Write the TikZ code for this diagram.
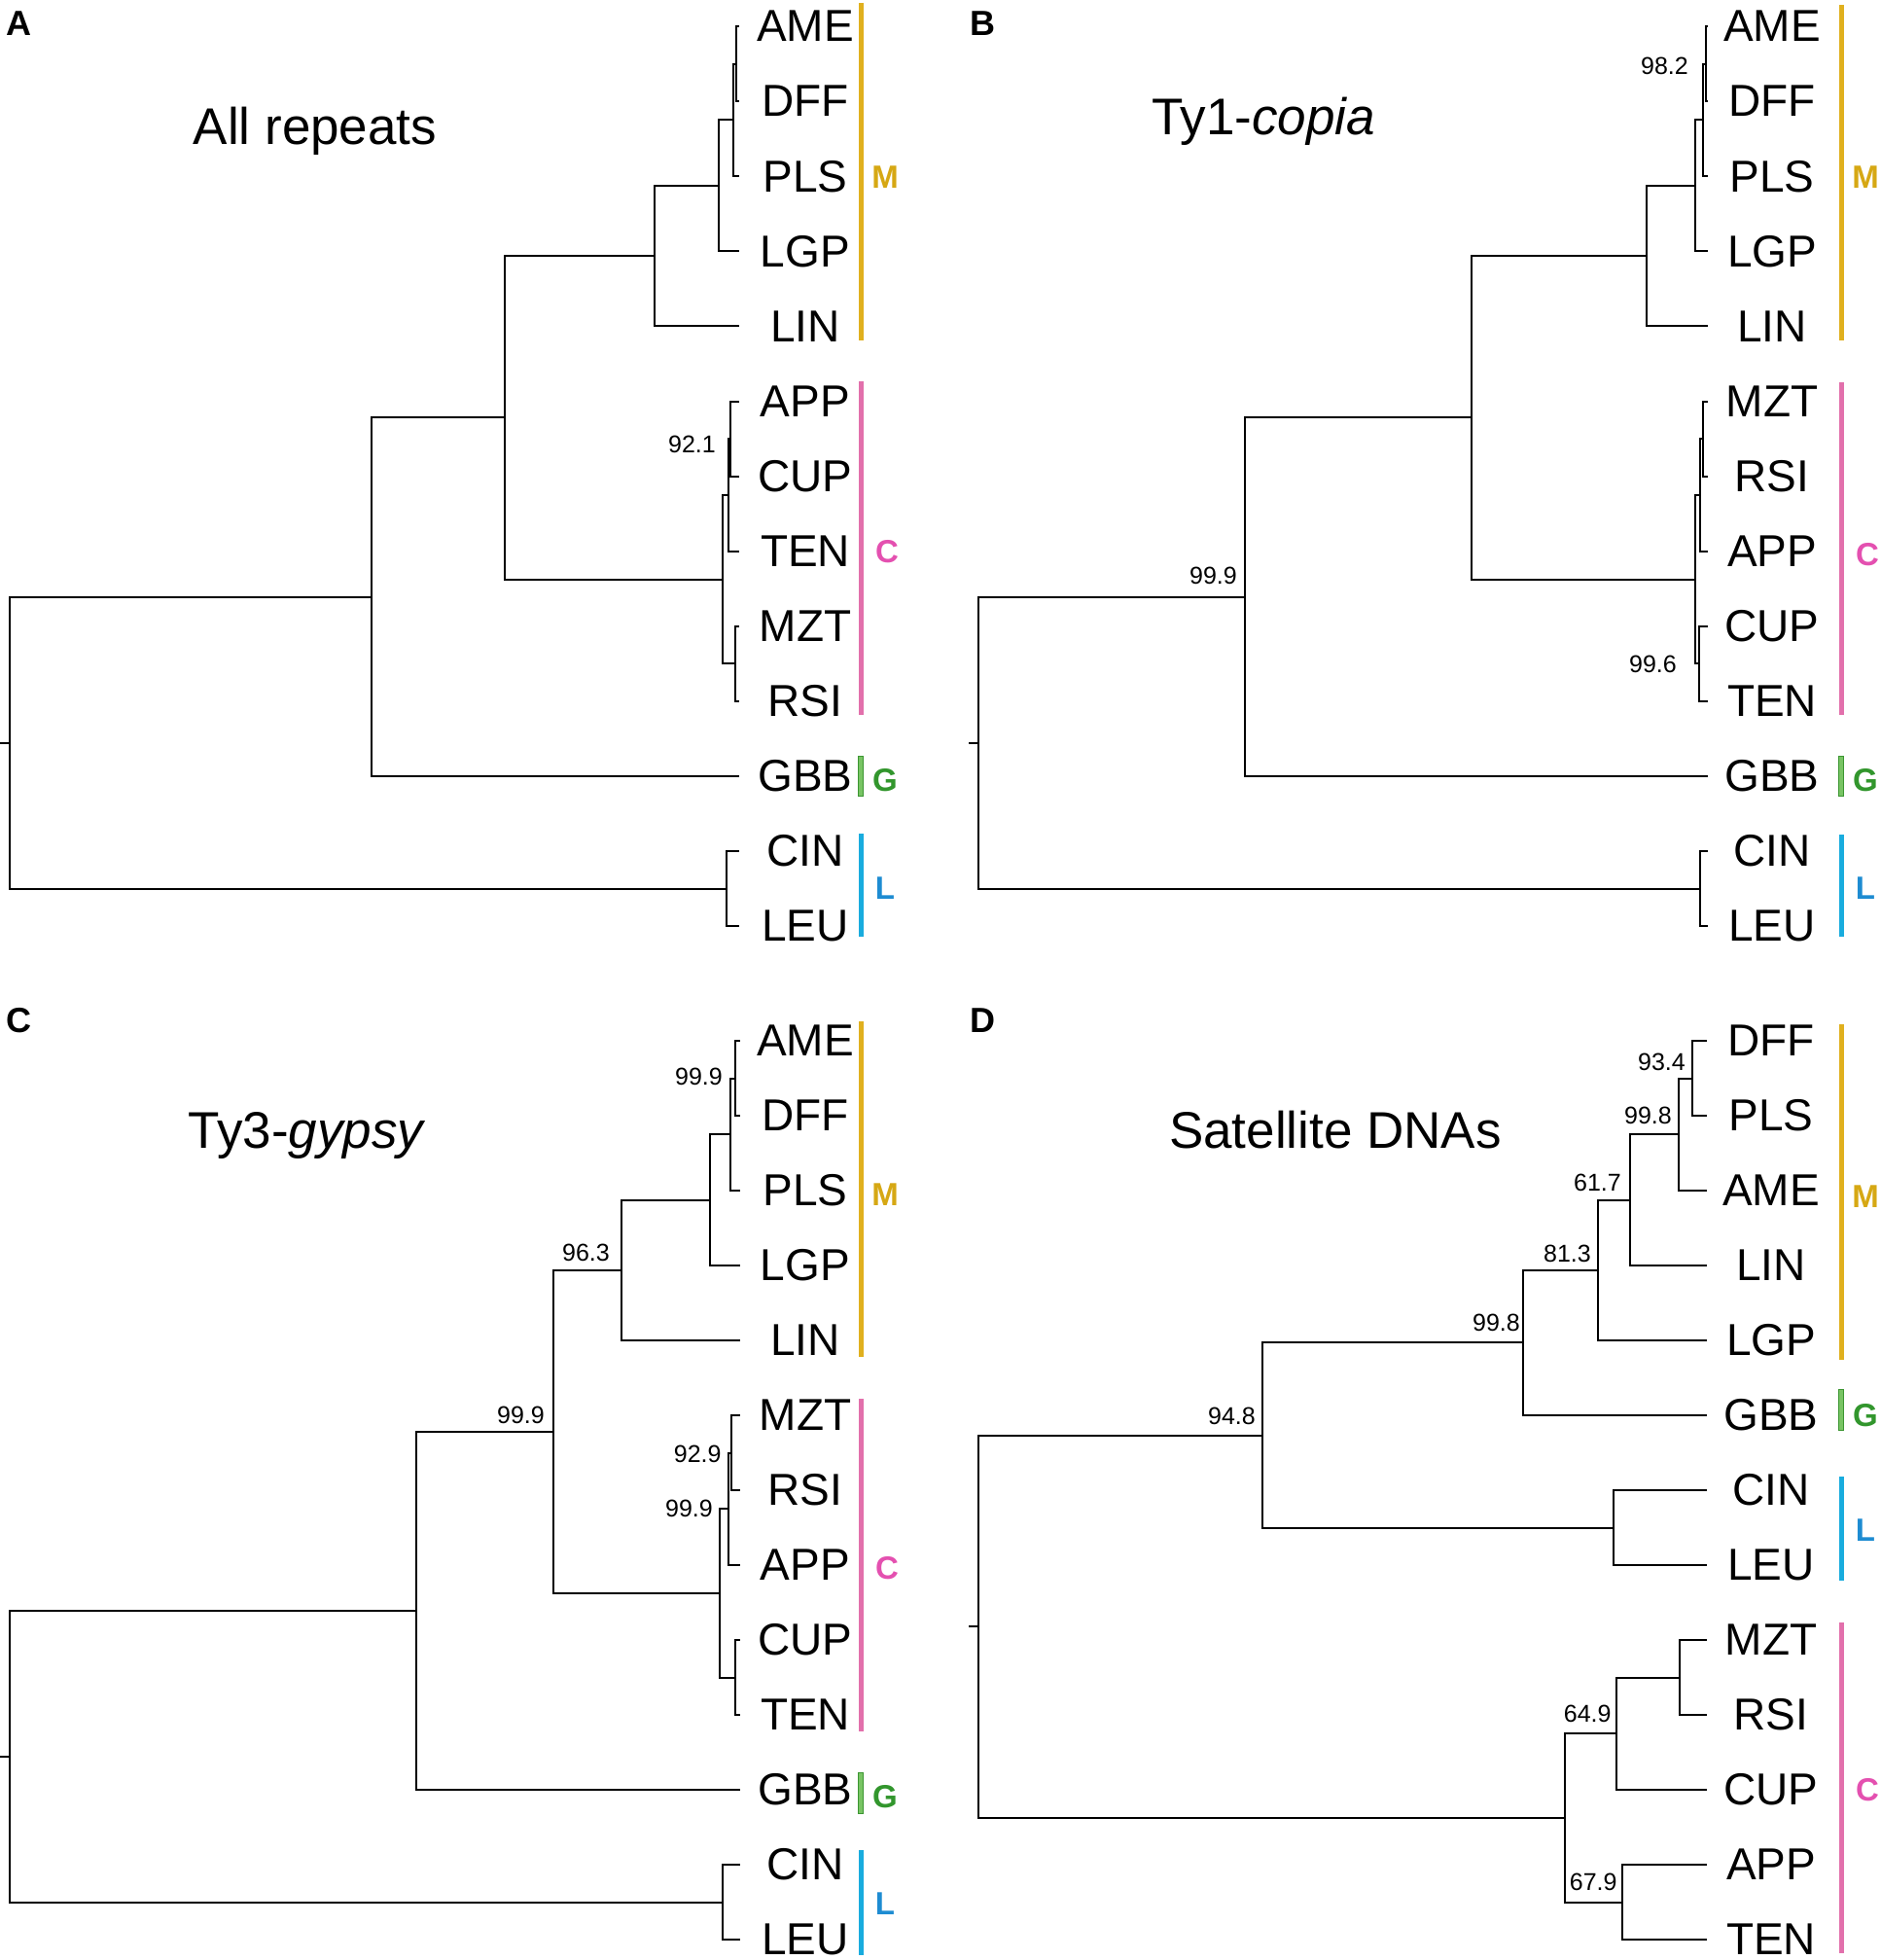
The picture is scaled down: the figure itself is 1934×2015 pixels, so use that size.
\documentclass[tikz,border=0pt]{standalone}
\usepackage{fontspec}
\setmainfont{Liberation Sans}[BoldFont={Liberation Sans Bold},ItalicFont={Liberation Sans Italic}]
\definecolor{colM}{RGB}{224,176,30}
\definecolor{colMt}{RGB}{214,168,20}
\definecolor{colC}{RGB}{226,112,172}
\definecolor{colCt}{RGB}{228,80,176}
\definecolor{colGf}{RGB}{120,196,100}
\definecolor{colGd}{RGB}{60,150,50}
\definecolor{colGt}{RGB}{50,150,45}
\definecolor{colL}{RGB}{25,172,222}
\definecolor{colLt}{RGB}{30,140,210}
\tikzset{
  br/.style={line width=2pt},
  leaf/.style={font=\fontsize{46}{50}\selectfont, inner sep=0pt},
  boot/.style={font=\fontsize{25}{28}\selectfont, inner sep=0pt, anchor=east},
  grp/.style={font=\fontsize{33}{36}\selectfont\bfseries, inner sep=0pt},
  ttl/.style={font=\fontsize{53}{58}\selectfont, inner sep=0pt, anchor=base},
  plab/.style={font=\fontsize{36}{40}\selectfont\bfseries, inner sep=0pt, anchor=base west},
  barM/.style={line width=5pt, draw=colM},
  barC/.style={line width=5pt, draw=colC},
  barL/.style={line width=5pt, draw=colL},
  barG/.style={fill=colGf, draw=colGd, line width=1pt},
}
\begin{document}
\begin{tikzpicture}[x=1pt,y=-1pt]
\useasboundingbox (0,0) rectangle (1934,2015);
\fill[white] (0,0) rectangle (1934,2015);

% ---------------- Panel letters and titles
\node[plab] (pA) at (6,37) {A};
\node[plab] (pB) at (997,37) {B};
\node[plab] (pC) at (6,1061) {C};
\node[plab] (pD) at (997,1061) {D};
\node[ttl] (tA) at (324,148) {All repeats};
\node[ttl] (tB) at (1299,139) {Ty1-\textit{copia}};
\node[ttl] (tC) at (316,1180) {Ty3-\textit{gypsy}};
\node[ttl] (tD) at (1373,1180) {Satellite DNAs};

% ---------------- Panel A
\foreach \n/\i in {AME/0,DFF/1,PLS/2,LGP/3,LIN/4,APP/5,CUP/6,TEN/7,MZT/8,RSI/9,GBB/10,CIN/11,LEU/12}{
  \coordinate (A\n) at (760,{27+77.1*\i});
  \node[leaf] (A\n-t) at (828,{27+77.1*\i}) {\n};
}
\coordinate (a1) at (757,65.55);
\coordinate (a2) at (754.3,123.4);
\coordinate (a3) at (739,190.85);
\coordinate (a4) at (673,263.1);
\coordinate (ac1) at (751,451.05);
\coordinate (ac2) at (749.3,508.9);
\coordinate (ac3) at (756,682.35);
\coordinate (ac4) at (743,595.6);
\coordinate (amc) at (519,429.35);
\coordinate (amg) at (381.6,613.7);
\coordinate (al) at (747,913.65);
\coordinate (ar) at (10.3,763.7);
\coordinate (ar0) at (0,763.7);
\draw[br] (AAME) -| (a1) |- (ADFF);
\draw[br] (a1) -| (a2) |- (APLS);
\draw[br] (a2) -| (a3) |- (ALGP);
\draw[br] (a3) -| (a4) |- (ALIN);
\draw[br] (AAPP) -| (ac1) |- (ACUP);
\draw[br] (ac1) -| (ac2) |- (ATEN);
\draw[br] (AMZT) -| (ac3) |- (ARSI);
\draw[br] (ac2) -| (ac4) |- (ac3);
\draw[br] (a4) -| (amc) |- (ac4);
\draw[br] (amc) -| (amg) |- (AGBB);
\draw[br] (ACIN) -| (al) |- (ALEU);
\draw[br] (amg) -| (ar) |- (al);
\draw[br] (ar0) -- (ar);
\node[boot] (bA1) at (736,457) {92.1};
\coordinate (AbM1) at (885,3); \coordinate (AbM2) at (885,350);
\coordinate (AbC1) at (885,392); \coordinate (AbC2) at (885,735);
\coordinate (AbL1) at (885,857); \coordinate (AbL2) at (885,963);
\draw[barM] (AbM1) -- (AbM2);
\draw[barC] (AbC1) -- (AbC2);
\draw[barL] (AbL1) -- (AbL2);
\path[barG] (882.5,777) rectangle (887.5,818);
\node[grp, text=colMt] (AgM) at (910,182) {M};
\node[grp, text=colCt] (AgC) at (912,567) {C};
\node[grp, text=colGt] (AgG) at (910,802) {G};
\node[grp, text=colLt] (AgL) at (910,913) {L};

% ---------------- Panel B
\foreach \n/\i in {AME/0,DFF/1,PLS/2,LGP/3,LIN/4,MZT/5,RSI/6,APP/7,CUP/8,TEN/9,GBB/10,CIN/11,LEU/12}{
  \coordinate (B\n) at (1756,{27+77.1*\i});
  \node[leaf] (B\n-t) at (1822,{27+77.1*\i}) {\n};
}
\coordinate (b1) at (1754,65.55);
\coordinate (b2) at (1750.7,123.4);
\coordinate (b3) at (1743,190.85);
\coordinate (b4) at (1692.5,263.1);
\coordinate (bc1) at (1750.7,451.05);
\coordinate (bc2) at (1747.7,508.9);
\coordinate (bc3) at (1746.7,682.35);
\coordinate (bc4) at (1742.7,595.6);
\coordinate (bmc) at (1512.5,429.35);
\coordinate (bmg) at (1280,613.7);
\coordinate (bl) at (1748,913.65);
\coordinate (br0) at (996,763.7);
\coordinate (brt) at (1006,763.7);
\draw[br] (BAME) -| (b1) |- (BDFF);
\draw[br] (b1) -| (b2) |- (BPLS);
\draw[br] (b2) -| (b3) |- (BLGP);
\draw[br] (b3) -| (b4) |- (BLIN);
\draw[br] (BMZT) -| (bc1) |- (BRSI);
\draw[br] (bc1) -| (bc2) |- (BAPP);
\draw[br] (BCUP) -| (bc3) |- (BTEN);
\draw[br] (bc2) -| (bc4) |- (bc3);
\draw[br] (b4) -| (bmc) |- (bc4);
\draw[br] (bmc) -| (bmg) |- (BGBB);
\draw[br] (BCIN) -| (bl) |- (BLEU);
\draw[br] (bmg) -| (brt) |- (bl);
\draw[br] (br0) -- (brt);
\node[boot] (bB1) at (1736,68) {98.2};
\node[boot] (bB2) at (1724,683) {99.6};
\node[boot] (bB3) at (1272,592) {99.9};
\coordinate (BbM1) at (1893,5); \coordinate (BbM2) at (1893,350);
\coordinate (BbC1) at (1893,393); \coordinate (BbC2) at (1893,735);
\coordinate (BbL1) at (1893,858); \coordinate (BbL2) at (1893,963);
\draw[barM] (BbM1) -- (BbM2);
\draw[barC] (BbC1) -- (BbC2);
\draw[barL] (BbL1) -- (BbL2);
\path[barG] (1890.5,777) rectangle (1895.5,818);
\node[grp, text=colMt] (BgM) at (1918,182) {M};
\node[grp, text=colCt] (BgC) at (1920,570) {C};
\node[grp, text=colGt] (BgG) at (1918,802) {G};
\node[grp, text=colLt] (BgL) at (1918,913) {L};

% ---------------- Panel C
\foreach \n/\i in {AME/0,DFF/1,PLS/2,LGP/3,LIN/4,MZT/5,RSI/6,APP/7,CUP/8,TEN/9,GBB/10,CIN/11,LEU/12}{
  \coordinate (C\n) at (760.5,{1070+77*\i});
  \node[leaf] (C\n-t) at (828,{1070+77*\i}) {\n};
}
\coordinate (c1) at (756,1108.5);
\coordinate (c2) at (750.7,1166.25);
\coordinate (c3) at (730,1233.6);
\coordinate (c4) at (638.6,1305.8);
\coordinate (cc1) at (751.7,1493.5);
\coordinate (cc2) at (749.3,1551.25);
\coordinate (cc3) at (756,1724.5);
\coordinate (cc4) at (740,1637.9);
\coordinate (cmc) at (569,1471.85);
\coordinate (cmg) at (428,1655.9);
\coordinate (cl) at (743,1955.5);
\coordinate (crt) at (10.3,1805.7);
\coordinate (cr0) at (0,1805.7);
\draw[br] (CAME) -| (c1) |- (CDFF);
\draw[br] (c1) -| (c2) |- (CPLS);
\draw[br] (c2) -| (c3) |- (CLGP);
\draw[br] (c3) -| (c4) |- (CLIN);
\draw[br] (CMZT) -| (cc1) |- (CRSI);
\draw[br] (cc1) -| (cc2) |- (CAPP);
\draw[br] (CCUP) -| (cc3) |- (CTEN);
\draw[br] (cc2) -| (cc4) |- (cc3);
\draw[br] (c4) -| (cmc) |- (cc4);
\draw[br] (cmc) -| (cmg) |- (CGBB);
\draw[br] (CCIN) -| (cl) |- (CLEU);
\draw[br] (cmg) -| (crt) |- (cl);
\draw[br] (cr0) -- (crt);
\node[boot] (bC1) at (743,1107) {99.9};
\node[boot] (bC2) at (627,1288) {96.3};
\node[boot] (bC3) at (741.7,1495) {92.9};
\node[boot] (bC4) at (733,1551) {99.9};
\node[boot] (bC5) at (560,1455) {99.9};
\coordinate (CbM1) at (885,1050); \coordinate (CbM2) at (885,1395);
\coordinate (CbC1) at (885,1438); \coordinate (CbC2) at (885,1780);
\coordinate (CbL1) at (885,1902); \coordinate (CbL2) at (885,2010);
\draw[barM] (CbM1) -- (CbM2);
\draw[barC] (CbC1) -- (CbC2);
\draw[barL] (CbL1) -- (CbL2);
\path[barG] (882.5,1822) rectangle (887.5,1864);
\node[grp, text=colMt] (CgM) at (910,1228) {M};
\node[grp, text=colCt] (CgC) at (912,1612) {C};
\node[grp, text=colGt] (CgG) at (910,1847) {G};
\node[grp, text=colLt] (CgL) at (910,1957) {L};

% ---------------- Panel D
\foreach \n/\i in {DFF/0,PLS/1,AME/2,LIN/3,LGP/4,GBB/5,CIN/6,LEU/7,MZT/8,RSI/9,CUP/10,APP/11,TEN/12}{
  \coordinate (D\n) at (1755,{1070+77*\i});
  \node[leaf] (D\n-t) at (1821,{1070+77*\i}) {\n};
}
\coordinate (d1) at (1740,1108.5);
\coordinate (d2) at (1726,1166.25);
\coordinate (d3) at (1676,1233.6);
\coordinate (d4) at (1642.7,1305.8);
\coordinate (d5) at (1565.5,1380.4);
\coordinate (dl) at (1659.3,1570.5);
\coordinate (d6) at (1298,1475.5);
\coordinate (dc1) at (1727.3,1724.5);
\coordinate (dc2) at (1661.7,1782.25);
\coordinate (dc3) at (1668.3,1955.5);
\coordinate (dc4) at (1609.3,1868.9);
\coordinate (drt) at (1006,1672.2);
\coordinate (dr0) at (996,1672.2);
\draw[br] (DDFF) -| (d1) |- (DPLS);
\draw[br] (d1) -| (d2) |- (DAME);
\draw[br] (d2) -| (d3) |- (DLIN);
\draw[br] (d3) -| (d4) |- (DLGP);
\draw[br] (d4) -| (d5) |- (DGBB);
\draw[br] (DCIN) -| (dl) |- (DLEU);
\draw[br] (d5) -| (d6) |- (dl);
\draw[br] (DMZT) -| (dc1) |- (DRSI);
\draw[br] (dc1) -| (dc2) |- (DCUP);
\draw[br] (DAPP) -| (dc3) |- (DTEN);
\draw[br] (dc2) -| (dc4) |- (dc3);
\draw[br] (d6) -| (drt) |- (dc4);
\draw[br] (dr0) -- (drt);
\node[boot] (bD1) at (1733,1092) {93.4};
\node[boot] (bD2) at (1719,1147) {99.8};
\node[boot] (bD3) at (1667,1215.5) {61.7};
\node[boot] (bD4) at (1636,1289) {81.3};
\node[boot] (bD5) at (1563,1360) {99.8};
\node[boot] (bD6) at (1291,1456) {94.8};
\node[boot] (bD7) at (1656.7,1762) {64.9};
\node[boot] (bD8) at (1662.7,1935) {67.9};
\coordinate (DbM1) at (1893,1053); \coordinate (DbM2) at (1893,1398);
\coordinate (DbL1) at (1893,1518); \coordinate (DbL2) at (1893,1625);
\coordinate (DbC1) at (1893,1668); \coordinate (DbC2) at (1893,2008);
\draw[barM] (DbM1) -- (DbM2);
\draw[barL] (DbL1) -- (DbL2);
\draw[barC] (DbC1) -- (DbC2);
\path[barG] (1890.5,1428) rectangle (1895.5,1470);
\node[grp, text=colMt] (DgM) at (1918,1230) {M};
\node[grp, text=colGt] (DgG) at (1918,1455) {G};
\node[grp, text=colLt] (DgL) at (1918,1573) {L};
\node[grp, text=colCt] (DgC) at (1920,1840) {C};
\end{tikzpicture}
\end{document}
